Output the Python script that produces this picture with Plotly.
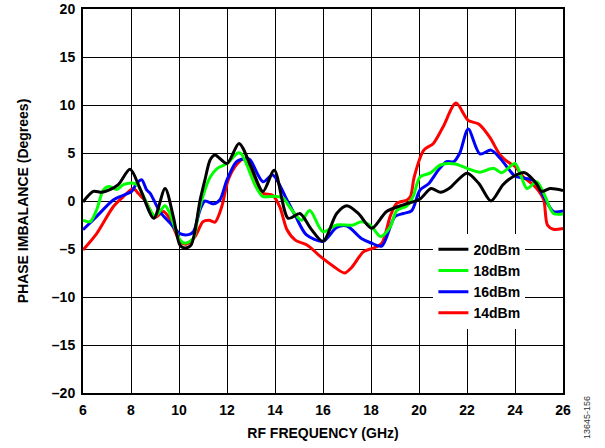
import plotly.graph_objects as go

# ---- data ----
f_20 = [6.0, 6.43, 6.78, 7.1, 7.47, 7.96, 8.4, 8.95, 9.42, 9.76, 10.04, 10.25, 10.5, 10.88, 11.08, 11.3, 11.5,
        12.0, 12.5, 13.0, 13.5, 13.97, 14.55, 15.04, 15.5, 16.0, 16.57, 17.0, 17.47, 18.03, 18.65, 19.35,
        20.04, 20.5, 20.9, 21.25, 22.0, 22.5, 23.0, 23.5, 23.9, 24.4, 24.9, 25.1, 25.46, 26.0]
v_20 = [-0.1, 1.0, 0.9, 1.15, 1.7, 3.3, 1.15, -1.8, 1.3, -1.6, -4.6, -4.9, -4.6, 0.1, 2.2, 4.3, 4.8,
        3.9, 6.0, 3.6, 1.0, 3.2, -1.8, -1.3, -2.9, -4.2, -1.3, -0.5, -1.3, -2.85, -1.1, -0.4,
        0.2, 1.3, 0.9, 1.3, 2.9, 1.8, 0.0, 1.7, 2.5, 2.95, 1.8, 1.0, 1.3, 1.1]

f_18 = [6.0, 6.3, 6.57, 6.85, 7.1, 7.4, 7.68, 8.1, 8.3, 8.5, 9.0, 9.42, 9.6, 10.04, 10.25, 10.6, 10.8, 11.08,
        11.3, 11.6, 12.0, 12.45, 12.6, 13.2, 13.5, 14.0, 14.35, 14.6, 15.1, 15.45, 16.0, 16.57, 17.26, 17.6,
        18.0, 18.4, 18.8, 19.07, 19.5, 19.76, 20.04, 20.46, 20.9, 21.5, 22.0, 22.54, 23.1, 23.45, 24.0,
        24.25, 24.5, 24.9, 25.2, 25.6, 26.0]
v_18 = [-2.0, -2.15, -0.9, 1.15, 1.5, 1.2, 1.7, 1.85, 1.6, 0.6, -1.56, -0.5, -1.2, -4.06, -4.4, -3.9, -1.3, 1.15,
        2.5, 3.4, 3.9, 5.0, 4.9, 1.5, 0.45, 0.5, 0.3, -0.6, -2.0, -1.0, -3.2, -2.5, -2.5, -2.15,
        -2.6, -3.7, -2.7, -1.0, -0.5, 0.5, 2.5, 2.9, 3.75, 3.85, 3.4, 3.0, 3.4, 2.95, 3.9,
        2.6, 1.3, 2.0, 0.8, -1.3, -1.35]

f_16 = [6.0, 6.57, 7.26, 7.68, 8.03, 8.24, 8.45, 8.65, 8.8, 9.2, 9.63, 10.04, 10.4, 10.6, 10.88, 11.08, 11.43,
        11.7, 12.0, 12.4, 12.8, 12.96, 13.5, 13.9, 14.5, 14.86, 15.3, 16.0, 16.57, 17.0, 17.6, 18.03, 18.45,
        19.0, 19.35, 19.7, 20.04, 20.4, 20.8, 21.15, 21.45, 21.7, 22.05, 22.54, 23.0, 23.38, 23.65, 24.0,
        24.35, 24.8, 25.2, 25.6, 26.0]
v_16 = [-3.0, -1.6, 0.1, 0.6, 1.0, 1.85, 2.2, 1.15, 0.8, -1.1, -2.3, -3.4, -3.5, -3.2, -0.9, 0.0, -0.3,
        0.1, 2.2, 4.1, 4.45, 4.3, 2.0, 2.7, 0.1, -1.6, -3.5, -4.2, -2.75, -2.6, -3.9, -4.4, -4.7,
        -1.6, -1.3, -1.0, 1.15, 1.8, 3.2, 4.1, 4.1, 5.0, 7.5, 4.9, 5.3, 4.45, 3.6, 2.6,
        2.4, 2.1, 0.45, -1.1, -1.05]

f_14 = [6.0, 6.57, 7.26, 7.68, 8.1, 8.3, 8.6, 9.0, 9.35, 9.6, 10.04, 10.3, 10.67, 11.0, 11.25, 11.5, 11.78,
        12.05, 12.4, 12.68, 13.1, 13.5, 13.9, 14.2, 14.5, 14.86, 15.35, 15.9, 16.43, 16.9, 17.2, 17.68,
        18.1, 18.45, 18.8, 19.07, 19.5, 19.65, 19.8, 20.2, 20.6, 21.0, 21.54, 22.05, 22.5, 22.96, 23.38,
        23.8, 24.0, 24.35, 24.75, 25.0, 25.2, 25.35, 25.6, 26.0]
v_14 = [-5.1, -3.4, -0.6, 0.45, 1.3, 0.8, 0.0, -1.7, -1.1, -1.8, -4.2, -4.5, -3.7, -2.15, -2.0, -2.2, -0.6,
        2.2, 3.8, 4.35, 2.7, 0.8, 0.6, -0.6, -3.0, -4.1, -4.6, -5.8, -6.8, -7.5, -6.9, -5.3,
        -4.9, -4.4, -1.6, -0.25, 0.1, 0.5, 2.5, 5.3, 6.0, 7.7, 10.2, 8.4, 8.0, 6.6, 4.8,
        3.9, 3.6, 2.5, 1.7, 1.0, 0.1, -2.5, -2.95, -2.85]

series_names = ["20dBm", "18dBm", "16dBm", "14dBm"]
series_colors = ["#000000", "#00ff00", "#0000ff", "#ff0000"]

x_ticks = [6, 8, 10, 12, 14, 16, 18, 20, 22, 24, 26]
y_ticks = [-20, -15, -10, -5, 0, 5, 10, 15, 20]
y_ticktext = ["–20", "–15", "–10", "–5", "0", "5", "10", "15", "20"]

FONT = "Liberation Sans, Arial, Helvetica, sans-serif"

traces = []
for name, color, xs, ys in zip(series_names, series_colors,
                               [f_20, f_18, f_16, f_14], [v_20, v_18, v_16, v_14]):
    traces.append(go.Scatter(x=xs, y=ys, mode="lines", name=name,
                             line=dict(color=color, width=3, shape="spline", smoothing=0.8)))

# draw red first, black last (black on top); legend lists 20dBm first
fig = go.Figure(data=list(reversed(traces)))

axis_common = dict(showgrid=True, gridcolor="black", gridwidth=1.3, zeroline=False,
                   showline=True, linecolor="black", linewidth=2, mirror=True, automargin=False,
                   ticks="", tickfont=dict(family=FONT, size=14, color="black", weight="bold"))

fig.update_layout(
    width=605, height=448,
    margin=dict(l=83, r=42, t=9, b=55, autoexpand=False),
    paper_bgcolor="white", plot_bgcolor="white",
    font=dict(family=FONT, color="black"),
    showlegend=True,
    legend=dict(x=0.73, y=0.415, xanchor="left", yanchor="top", bgcolor="white",
                borderwidth=0, traceorder="reversed",
                font=dict(family=FONT, size=14, color="black", weight="bold"),
                itemwidth=30, tracegroupgap=0),
    xaxis=dict(range=[6, 26], tickvals=x_ticks, ticklabelstandoff=3,
               title=dict(text="RF FREQUENCY (GHz)", standoff=11,
                          font=dict(family=FONT, size=14, color="black", weight="bold")),
               **axis_common),
    yaxis=dict(range=[-20, 20], tickvals=y_ticks, ticktext=y_ticktext, ticklabelstandoff=3,
               title=dict(text="PHASE IMBALANCE (Degrees)", standoff=20,
                          font=dict(family=FONT, size=14, color="black", weight="bold")),
               **axis_common),
)

fig.add_annotation(text="13645-156", x=1.0, xref="paper", xshift=31, y=-0.065, yref="paper",
                   yanchor="middle", textangle=-90, showarrow=False,
                   font=dict(family=FONT, size=9, color="#333333"))

# remove the browser's default 8px body margin so the figure fills the window exactly
fig.write_html("out.html", config={"displayModeBar": False},
               post_script="document.body.style.margin='0';")
